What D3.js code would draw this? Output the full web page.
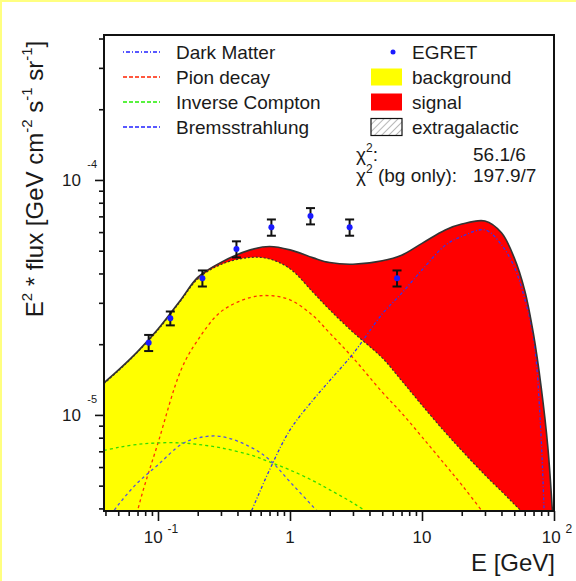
<!DOCTYPE html>
<html><head><meta charset="utf-8">
<script src="https://cdn.jsdelivr.net/npm/d3@7"></script>
<style>
html,body{margin:0;padding:0;background:#fff;}
svg{display:block;font-family:"Liberation Sans",Arial,Helvetica,sans-serif;}
</style></head><body>
<svg id="chart" width="576" height="581"></svg>
<script>
// Energy grid (GeV) shared by all model curves
const energy = [0.039, 0.05, 0.07, 0.1, 0.15, 0.2, 0.3, 0.5, 0.7, 1, 1.5, 2, 3, 5, 7, 10, 15, 20, 30, 40, 50, 60, 70, 80, 90, 100];

// E^2 * flux [GeV cm^-2 s^-1 sr^-1]
const totalFlux = [1.37e-5, 1.55e-5, 1.86e-5, 2.32e-5, 3.11e-5, 3.85e-5, 4.46e-5, 5.04e-5, 5.21e-5, 5.04e-5, 4.66e-5, 4.45e-5, 4.38e-5, 4.53e-5, 4.78e-5, 5.37e-5, 6.13e-5, 6.49e-5, 6.69e-5, 5.96e-5, 4.66e-5, 3.39e-5, 2.20e-5, 1.31e-5, 7.2e-6, 3.0e-6];
const backgroundFlux = [1.36e-5, 1.54e-5, 1.85e-5, 2.30e-5, 3.08e-5, 3.79e-5, 4.37e-5, 4.68e-5, 4.61e-5, 4.19e-5, 3.32e-5, 2.80e-5, 2.25e-5, 1.75e-5, 1.40e-5, 1.10e-5, 8.43e-6, 7.06e-6, 5.55e-6, 4.73e-6, 4.17e-6, 3.76e-6, 3.4e-6, 3.1e-6, 2.8e-6, 2.5e-6];
const darkMatter = [null, null, null, null, null, null, 2.0e-6, 3.8e-6, 5.83e-6, 8.63e-6, 1.16e-5, 1.40e-5, 1.82e-5, 2.69e-5, 3.29e-5, 4.14e-5, 5.27e-5, 5.75e-5, 6.13e-5, 5.30e-5, 4.26e-5, 3.12e-5, 2.12e-5, 7.9e-6, 1.0e-6, null];
const pionDecay = [8e-7, 1.5e-6, 3.9e-6, 7.59e-6, 1.56e-5, 2.08e-5, 2.75e-5, 3.16e-5, 3.22e-5, 3.09e-5, 2.64e-5, 2.23e-5, 1.75e-5, 1.25e-5, 1.02e-5, 8.06e-6, 6.13e-6, 5.04e-6, 3.75e-6, 3.0e-6, null, null, null, null, null, null];
const inverseCompton = [7.06e-6, 7.27e-6, 7.49e-6, 7.60e-6, 7.60e-6, 7.49e-6, 7.24e-6, 6.76e-6, 6.31e-6, 5.83e-6, 5.24e-6, 4.80e-6, 4.22e-6, 3.5e-6, 3.1e-6, null, null, null, null, null, null, null, null, null, null, null];
const bremsstrahlung = [3.4e-6, 4.14e-6, 5.14e-6, 6.13e-6, 7.49e-6, 7.98e-6, 8.1e-6, 7.31e-6, 6.44e-6, 5.19e-6, 4.06e-6, 3.4e-6, 2.5e-6, null, null, null, null, null, null, null, null, null, null, null, null, null];

// EGRET measurements
const egretE = [0.085, 0.124, 0.217, 0.393, 0.723, 1.43, 2.83, 6.47];
const egretFlux = [2.03e-5, 2.58e-5, 3.82e-5, 5.08e-5, 6.29e-5, 7.03e-5, 6.29e-5, 3.82e-5];
const egretErr = [1.6e-6, 1.75e-6, 3.0e-6, 4.0e-6, 5.0e-6, 5.6e-6, 5.0e-6, 3.0e-6];

// Axis ticks and labels
const xMajor = [0.1, 1, 10, 100];
const xMajorLabels = [["10", "-1"], ["1", ""], ["10", ""], ["10", "2"]];
const yMajor = [1e-5, 1e-4];
const yMajorLabels = [["10", "-5"], ["10", "-4"]];

const legendLines = ["Dark Matter", "Pion decay", "Inverse Compton", "Bremsstrahlung"];
const legendBoxes = ["EGRET", "background", "signal", "extragalactic"];
const chi2Values = ["56.1/6", "197.9/7"];

const svg = d3.select("#chart");
const TEXT = "#1a1a1a";

// outer pad border
svg.append("line").attr("x1", 0).attr("x2", 576).attr("y1", 1).attr("y2", 1).attr("stroke", "#ffff80").attr("stroke-width", 2);
svg.append("line").attr("x1", 1).attr("x2", 1).attr("y1", 0).attr("y2", 581).attr("stroke", "#ffff80").attr("stroke-width", 2);

const fr = {left: 104, right: 554, top: 35, bottom: 511};
const x = d3.scaleLog().domain([0.039, 100]).range([fr.left, fr.right]);
const y = d3.scaleLog().domain([3.9e-6, 4.14e-4]).range([fr.bottom, fr.top]);

svg.append("defs").append("clipPath").attr("id", "plotClip")
  .append("rect").attr("x", fr.left).attr("y", fr.top).attr("width", fr.right - fr.left).attr("height", fr.bottom - fr.top);

const pat = svg.select("defs").append("pattern").attr("id", "hatch").attr("patternUnits", "userSpaceOnUse")
  .attr("width", 5).attr("height", 5).attr("patternTransform", "rotate(45)");
pat.append("rect").attr("width", 5).attr("height", 5).attr("fill", "#fff");
pat.append("line").attr("x1", 0).attr("y1", 0).attr("x2", 0).attr("y2", 5).attr("stroke", "#999").attr("stroke-width", 1.4);

const plot = svg.append("g").attr("clip-path", "url(#plotClip)");

const pairs = vals => energy.map((e, i) => [e, vals[i]]);
const yBase = y.range()[0] + 20;
const area = d3.area().x(d => x(d[0])).y0(yBase).y1(d => y(d[1])).curve(d3.curveCatmullRom.alpha(0.5));
const line = d3.line().defined(d => d[1] != null).x(d => x(d[0])).y(d => y(d[1])).curve(d3.curveCatmullRom.alpha(0.5));

plot.append("path").attr("d", area(pairs(totalFlux))).attr("fill", "#ff0000");
plot.append("path").attr("d", area(pairs(backgroundFlux))).attr("fill", "#ffff00");

const comps = [
  {v: pionDecay, c: "#ff3300", dash: "3,3"},
  {v: inverseCompton, c: "#33dd00", dash: "3,3"},
  {v: bremsstrahlung, c: "#5555dd", dash: "3,3"},
  {v: darkMatter, c: "#3333ee", dash: "1,2,3,2"}
];
comps.forEach(s => {
  plot.append("path").attr("d", line(pairs(s.v))).attr("fill", "none")
    .attr("stroke", s.c).attr("stroke-width", 1.3).attr("stroke-dasharray", s.dash);
});

plot.append("path").attr("d", line(pairs(backgroundFlux))).attr("fill", "none")
  .attr("stroke", "#333").attr("stroke-width", 1.2).attr("stroke-dasharray", "2,2");
plot.append("path").attr("d", line(pairs(totalFlux))).attr("fill", "none")
  .attr("stroke", "#333").attr("stroke-width", 1.6);

// minor ticks
function minors(lo, hi) {
  const out = [];
  for (let d = Math.floor(Math.log10(lo)); d <= Math.ceil(Math.log10(hi)); d++)
    for (let k = 2; k <= 9; k++) { const v = k * Math.pow(10, d); if (v >= lo && v <= hi) out.push(v); }
  return out;
}

const xAxisG = svg.append("g").attr("transform", `translate(0,${fr.bottom})`);
xAxisG.append("g").call(d3.axisBottom(x).tickValues(minors(...x.domain())).tickSize(5).tickFormat(""));
xAxisG.append("g").call(d3.axisBottom(x).tickValues(xMajor).tickSize(10).tickFormat(""));
xAxisG.selectAll(".domain").remove();
xAxisG.selectAll(".tick line").attr("stroke", "#111").attr("stroke-width", 1.6);

const yAxisG = svg.append("g").attr("transform", `translate(${fr.left},0)`);
yAxisG.append("g").call(d3.axisLeft(y).tickValues(minors(...y.domain())).tickSize(5).tickFormat(""));
yAxisG.append("g").call(d3.axisLeft(y).tickValues(yMajor).tickSize(9).tickFormat(""));
yAxisG.selectAll(".domain").remove();
yAxisG.selectAll(".tick line").attr("stroke", "#111").attr("stroke-width", 1.6);

// frame
svg.append("rect").attr("x", fr.left).attr("y", fr.top).attr("width", fr.right - fr.left).attr("height", fr.bottom - fr.top)
  .attr("fill", "none").attr("stroke", "#111").attr("stroke-width", 2);

// tick labels
xMajor.forEach((v, i) => {
  const t = svg.append("text").attr("x", x(v) + (xMajorLabels[i][1] ? 3 : 0)).attr("y", fr.bottom + 32)
    .attr("text-anchor", "middle").attr("font-size", 17).attr("fill", TEXT);
  t.append("tspan").text(xMajorLabels[i][0]);
  if (xMajorLabels[i][1]) t.append("tspan").attr("dx", 5).attr("dy", -10).attr("font-size", 12).text(xMajorLabels[i][1]);
});
yMajor.forEach((v, i) => {
  svg.append("text").attr("x", fr.left - 23).attr("y", y(v) + 6).attr("text-anchor", "end")
    .attr("font-size", 17).attr("fill", TEXT).text(yMajorLabels[i][0]);
  svg.append("text").attr("x", fr.left - 7).attr("y", y(v) - 12).attr("text-anchor", "end")
    .attr("font-size", 11).attr("fill", TEXT).text(yMajorLabels[i][1]);
});

// axis titles
function richText(sel, parts, supSize, shift) {
  let up = false;
  parts.forEach(([s, sup]) => {
    const ts = sel.append("tspan").text(s);
    if (sup && !up) { ts.attr("dy", -shift).attr("font-size", supSize); up = true; }
    else if (sup) { ts.attr("font-size", supSize); }
    else if (up) { ts.attr("dy", shift); up = false; }
  });
}
svg.append("text").attr("x", 555).attr("y", 571).attr("text-anchor", "end")
  .attr("font-size", 24).attr("fill", TEXT).text("E [GeV]");
const yt = svg.append("text").attr("transform", "translate(43,179) rotate(-90)").attr("text-anchor", "middle")
  .attr("font-size", 24).attr("fill", TEXT);
richText(yt, [["E", 0], ["2", 1], [" * flux [GeV cm", 0], ["-2", 1], [" s", 0], ["-1", 1], [" sr", 0], ["-1", 1], ["]", 0]], 15, 11);

// EGRET data points
const pts = svg.append("g");
egretE.forEach((e, i) => {
  const cx = x(e), hi = y(egretFlux[i] + egretErr[i]), lo = y(egretFlux[i] - egretErr[i]);
  pts.append("line").attr("x1", cx).attr("x2", cx).attr("y1", hi).attr("y2", lo).attr("stroke", "#111").attr("stroke-width", 2);
  [hi, lo].forEach(yy => pts.append("line").attr("x1", cx - 4.5).attr("x2", cx + 4.5).attr("y1", yy).attr("y2", yy)
    .attr("stroke", "#111").attr("stroke-width", 2));
  pts.append("circle").attr("cx", cx).attr("cy", y(egretFlux[i])).attr("r", 3).attr("fill", "#1a1aff");
});

// legend, left column: line styles
const leg = svg.append("g").attr("font-size", 19).attr("fill", TEXT);
const legStyles = [
  {c: "#2222ff", dash: "1,2,4,2"},
  {c: "#ff2200", dash: "4,2"},
  {c: "#22ee00", dash: "4,2"},
  {c: "#2222ff", dash: "4,2"}
];
legendLines.forEach((name, i) => {
  const cy = 52 + 25 * i;
  leg.append("line").attr("x1", 123).attr("x2", 160).attr("y1", cy).attr("y2", cy)
    .attr("stroke", legStyles[i].c).attr("stroke-width", 1.5).attr("stroke-dasharray", legStyles[i].dash);
  leg.append("text").attr("x", 176).attr("y", cy + 7).text(name);
});

// legend, right column: markers and fills
legendBoxes.forEach((name, i) => {
  const cy = 52 + 25 * i;
  if (i === 0) {
    leg.append("circle").attr("cx", 393).attr("cy", cy).attr("r", 2.5).attr("fill", "#1a1aff");
  } else {
    const fill = i === 1 ? "#ffff00" : i === 2 ? "#ff0000" : "url(#hatch)";
    leg.append("rect").attr("x", 371).attr("y", cy - 8.5).attr("width", 31).attr("height", 17).attr("fill", fill)
      .attr("stroke", i === 3 ? "#111" : "none").attr("stroke-width", 1.2);
  }
  leg.append("text").attr("x", 412).attr("y", cy + 7).text(name);
});

// chi-square summary
const c1 = leg.append("text").attr("x", 356).attr("y", 161);
richText(c1, [["χ", 0], ["2", 1], [":", 0]], 12, 9);
leg.append("text").attr("x", 473).attr("y", 161).text(chi2Values[0]);
const c2 = leg.append("text").attr("x", 356).attr("y", 182);
richText(c2, [["χ", 0], ["2", 1], [" (bg only):", 0]], 12, 9);
leg.append("text").attr("x", 473).attr("y", 182).text(chi2Values[1]);
</script>
</body></html>
